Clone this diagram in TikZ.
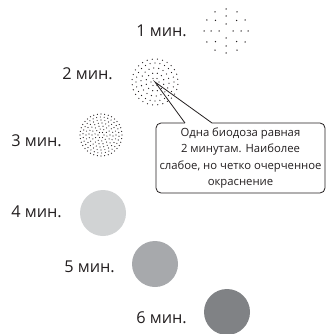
\documentclass[tikz,border=0pt]{standalone}
\usepackage{fontspec}
\setmainfont{Open Sans}
\definecolor{ink}{HTML}{231F20}
\definecolor{tone4}{HTML}{D1D3D4}
\definecolor{tone5}{HTML}{A7A9AC}
\definecolor{tone6}{HTML}{808285}
\begin{document}
\begin{tikzpicture}[x=1pt,y=-1pt]
    \tikzset{
      lbl/.style={anchor=east, text=ink, inner sep=0pt, font=\fontsize{16.3}{19}\selectfont},
      spot/.style={circle, minimum size=46pt, inner sep=0pt},
      dot/.style={fill=ink},
      note/.style={draw=ink, line width=0.8pt, rounded corners=5pt, fill=white, text=ink,
        minimum width=169pt, minimum height=70pt, align=center, inner sep=1pt,
        font=\fontsize{11.3}{16.5}\selectfont}
    }
    \useasboundingbox (0,0) rectangle (326,334);
    \coordinate (c1) at (226,31);
    \coordinate (c2) at (155,82);
    \coordinate (c3) at (101,135);
    \node[spot, fill=tone4] (c4) at (103,213) {};
    \node[spot, fill=tone5] (c5) at (155,264) {};
    \node[spot, fill=tone6] (c6) at (227,312) {};
    % dotted spots
    \foreach \r/\n in {7/4,15/8,22/12}
      \foreach \k in {1,...,\n}
        \fill[dot] (c1) ++(\k*360/\n:\r) circle (0.75pt);
    \foreach \r/\n/\a in {4/6/0,9/12/15,14/18/5,19/24/0,23/28/6}
      \foreach \k in {1,...,\n}
        \fill[dot] (c2) ++(\a+\k*360/\n:\r) circle (0.65pt);
    \foreach \r/\n/\a in {3/6/0,6/10/10,9/14/0,12/20/5,15/24/0,18/30/4,21/36/0}
      \foreach \k in {1,...,\n}
        \fill[dot] (c3) ++(\a+\k*360/\n:\r) circle (0.6pt);
    % labels
    \node[lbl] (l1) at (187,31) {1 мин.};
    \node[lbl] (l2) at (113,74) {2 мин.};
    \node[lbl] (l3) at (62,141) {3 мин.};
    \node[lbl] (l4) at (62,212) {4 мин.};
    \node[lbl] (l5) at (115,267) {5 мин.};
    \node[lbl] (l6) at (187,318) {6 мин.};
    % callout
    \node[note] (box) at (240.5,158) {Одна биодоза равная\\2 минутам. Наиболее\\слабое, но четко очерченное\\окраснение};
    \coordinate (pa) at (185,123);
    \coordinate (pb) at (212,123);
    \draw[white, line width=1.4pt] (pa) -- (pb);
    \draw[ink, line width=0.8pt] (pa) -- (c2) -- (pb);
\end{tikzpicture}
\end{document}
